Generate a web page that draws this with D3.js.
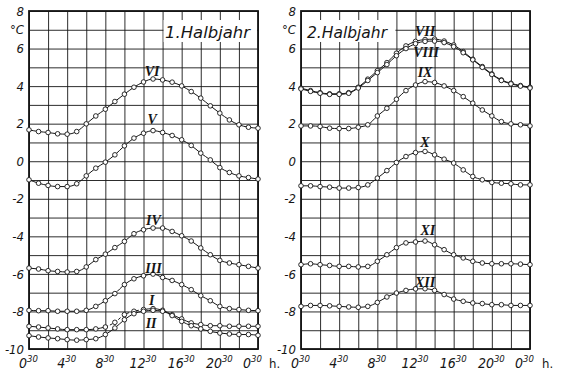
<!DOCTYPE html>
<html>
<head>
<meta charset="utf-8">
<script src="https://cdn.jsdelivr.net/npm/d3@7"></script>
<style>
  html, body { margin: 0; padding: 0; background: #fff; }
  svg { display: block; }
  .num { font-family: "DejaVu Sans Condensed", "Liberation Sans Narrow", "DejaVu Sans", sans-serif; font-stretch: condensed; font-style: italic; fill: #151515; }
  .rom { font-family: "Liberation Serif", "DejaVu Serif", serif; font-style: italic; fill: #151515; }
</style>
</head>
<body>
<svg id="chart" width="564" height="375"></svg>
<script>
// Hourly readings, hour 0 = 0:30, hour 24 = 0:30 of the next day
const hours = d3.range(0, 25);

// Mean daily temperature course, °C, per month (first half-year)
const I   = [-8.79, -8.83, -8.88, -8.93, -8.97, -8.97, -8.97, -8.93, -8.83, -8.58, -8.17, -7.99, -7.90, -7.85, -7.94, -8.17, -8.40, -8.61, -8.70, -8.76, -8.76, -8.79, -8.79, -8.79, -8.79];
const II  = [-9.29, -9.36, -9.41, -9.45, -9.50, -9.53, -9.50, -9.45, -9.23, -8.88, -8.44, -8.12, -7.99, -7.94, -7.99, -8.22, -8.53, -8.76, -8.93, -9.06, -9.15, -9.20, -9.23, -9.23, -9.27];
const III = [-7.94, -7.96, -7.96, -7.99, -7.99, -7.99, -7.94, -7.73, -7.43, -7.05, -6.57, -6.26, -6.10, -6.01, -6.19, -6.35, -6.57, -6.84, -7.16, -7.43, -7.73, -7.85, -7.90, -7.94, -7.96];
const IV  = [-5.69, -5.74, -5.83, -5.87, -5.90, -5.87, -5.63, -5.24, -4.95, -4.60, -4.27, -3.86, -3.65, -3.56, -3.56, -3.74, -3.97, -4.25, -4.62, -4.98, -5.28, -5.42, -5.51, -5.60, -5.69];
const V   = [-0.99, -1.17, -1.29, -1.35, -1.35, -1.20, -0.78, -0.37, -0.05, 0.34, 0.82, 1.23, 1.49, 1.63, 1.53, 1.37, 1.14, 0.84, 0.43, 0.07, -0.34, -0.60, -0.78, -0.87, -0.95];
const VI  = [1.67, 1.58, 1.53, 1.46, 1.44, 1.58, 1.99, 2.41, 2.77, 3.18, 3.57, 3.94, 4.22, 4.38, 4.33, 4.21, 4.01, 3.71, 3.36, 2.95, 2.56, 2.20, 1.94, 1.81, 1.76];

// Second half-year
const VII  = [3.89, 3.76, 3.65, 3.59, 3.59, 3.65, 3.94, 4.37, 4.82, 5.25, 5.75, 6.14, 6.38, 6.48, 6.50, 6.40, 6.19, 5.84, 5.43, 5.04, 4.65, 4.33, 4.15, 4.03, 3.94];
const VIII = [3.85, 3.72, 3.62, 3.56, 3.56, 3.62, 3.90, 4.30, 4.72, 5.15, 5.62, 6.00, 6.26, 6.38, 6.40, 6.32, 6.10, 5.78, 5.40, 5.00, 4.62, 4.30, 4.12, 4.00, 3.90];
const IX   = [1.88, 1.88, 1.85, 1.76, 1.74, 1.74, 1.81, 1.94, 2.41, 2.82, 3.30, 3.76, 4.06, 4.24, 4.19, 4.01, 3.76, 3.44, 3.09, 2.73, 2.41, 2.11, 1.99, 1.94, 1.88];
const X    = [-1.31, -1.31, -1.35, -1.38, -1.43, -1.43, -1.40, -1.26, -0.90, -0.50, -0.07, 0.25, 0.46, 0.52, 0.34, 0.11, -0.10, -0.46, -0.81, -0.99, -1.13, -1.17, -1.20, -1.26, -1.26];
const XI   = [-5.51, -5.46, -5.51, -5.55, -5.60, -5.60, -5.63, -5.60, -5.33, -4.98, -4.60, -4.35, -4.30, -4.25, -4.45, -4.71, -4.98, -5.15, -5.33, -5.42, -5.46, -5.46, -5.46, -5.48, -5.51];
const XII  = [-7.73, -7.68, -7.68, -7.70, -7.73, -7.76, -7.78, -7.73, -7.52, -7.23, -7.02, -6.88, -6.80, -6.79, -6.88, -7.10, -7.34, -7.46, -7.55, -7.58, -7.64, -7.64, -7.68, -7.68, -7.68];

// Axis ticks and labels
const tempGrid   = d3.range(-10, 9, 1);
const tempLabels = [-10, -8, -6, -4, -2, 0, 2, 4, 6, 7, 8];
const tempUnit   = "°C";
const hourGrid   = d3.range(0, 25, 2);
const hourTicks  = [0, 4, 8, 12, 16, 20, 24];
const hourLabels = ["0", "4", "8", "12", "16", "20", "0"];
const minuteMark = "30";
const hourUnit   = "h.";
const titles     = ["1.Halbjahr", "2.Halbjahr"];

// ---- layout ----
const svg = d3.select("#chart");
const plotTop = 11, plotBottom = 349;
const y = d3.scaleLinear().domain([-10, 8]).range([plotBottom, plotTop]);

const panels = [
  {
    title: titles[0], left: 29, right: 258,
    box: { h0: 14, h1: 24, t0: 7.52, t1: 6.35 }, titleX: 165, titleLen: 85,
    series: [
      { name: "VI",  values: VI,  lab: [12.9, 4.55] },
      { name: "V",   values: V,   lab: [12.9, 2.0] },
      { name: "IV",  values: IV,  lab: [13.05, -3.38] },
      { name: "III", values: III, lab: [13.05, -5.94] },
      { name: "I",   values: I,   lab: [12.85, -7.66], dashed: [8, 12] },
      { name: "II",  values: II,  lab: [12.8, -8.86] }
    ],
    unitX: 269
  },
  {
    title: titles[1], left: 301, right: 530,
    box: { h0: 0, h1: 10, t0: 7.52, t1: 6.35 }, titleX: 307, titleLen: 80,
    series: [
      { name: "VII",  values: VII,  lab: [13.0, 6.67] },
      { name: "VIII", values: VIII, lab: [13.1, 5.55] },
      { name: "IX",   values: IX,   lab: [13.0, 4.49] },
      { name: "X",    values: X,    lab: [13.0, 0.77] },
      { name: "XI",   values: XI,   lab: [13.3, -3.91] },
      { name: "XII",  values: XII,  lab: [13.0, -6.68] }
    ],
    unitX: 542
  }
];

const ink = "#151515";

panels.forEach(p => {
  const x = d3.scaleLinear().domain([0, 24]).range([p.left, p.right]);
  const w = p.right - p.left, h = plotBottom - plotTop;
  const g = svg.append("g");

  // horizontal grid, one line per degree
  g.append("g")
    .attr("transform", `translate(${p.left},0)`)
    .call(d3.axisLeft(y).tickValues(tempGrid).tickSize(-w).tickFormat(""))
    .call(a => a.select(".domain").remove())
    .call(a => a.selectAll("line").attr("stroke", ink).attr("stroke-width", 0.9));

  // vertical grid, every two hours
  g.append("g")
    .attr("transform", `translate(0,${plotBottom})`)
    .call(d3.axisBottom(x).tickValues(hourGrid).tickSize(-h).tickFormat(""))
    .call(a => a.select(".domain").remove())
    .call(a => a.selectAll("line").attr("stroke", ink).attr("stroke-width", 0.9));

  // frame
  g.append("rect")
    .attr("x", p.left).attr("y", plotTop).attr("width", w).attr("height", h)
    .attr("fill", "none").attr("stroke", ink).attr("stroke-width", 1.8);

  // title panel cut into the grid
  const bx0 = x(p.box.h0), bx1 = x(p.box.h1), by0 = y(p.box.t0), by1 = y(p.box.t1);
  g.append("rect")
    .attr("x", bx0 + 1).attr("y", by0).attr("width", bx1 - bx0 - 2).attr("height", by1 - by0)
    .attr("fill", "#fff");
  g.append("text").attr("class", "num")
    .attr("x", p.titleX).attr("y", by1 - 4)
    .attr("font-size", 16)
    .attr("textLength", p.titleLen).attr("lengthAdjust", "spacingAndGlyphs")
    .text(p.title);

  // temperature labels
  g.append("g")
    .attr("transform", `translate(${p.left},0)`)
    .call(d3.axisLeft(y).tickValues(tempLabels).tickSize(0).tickPadding(5)
      .tickFormat(v => v === 7 ? tempUnit : String(v)))
    .call(a => a.select(".domain").remove())
    .attr("font-family", null).attr("font-size", null)
    .call(a => a.selectAll("text").attr("class", "num").attr("font-size", 13).attr("fill", ink));

  // hour labels with raised minutes
  const xa = g.append("g")
    .attr("transform", `translate(0,${plotBottom})`)
    .call(d3.axisBottom(x).tickValues(hourTicks).tickSize(0).tickPadding(0).tickFormat(""))
    .call(a => a.select(".domain").remove());
  xa.attr("font-family", null).attr("font-size", null);
  xa.selectAll(".tick text").each(function (d, i) {
    const t = d3.select(this)
      .attr("class", "num").attr("fill", ink).attr("font-size", 14)
      .attr("y", 19).attr("dy", 0)
      .attr("dx", i === hourTicks.length - 1 ? -6 : -1)
      .attr("text-anchor", "middle");
    t.text(null);
    t.append("tspan").text(hourLabels[i]);
    t.append("tspan").attr("font-size", 9.5).attr("dy", -6).text(minuteMark);
  });
  g.append("text").attr("class", "num")
    .attr("x", p.unitX).attr("y", plotBottom + 19)
    .attr("font-size", 13).style("font-style", "normal")
    .text(hourUnit);

  // curves
  const line = d3.line().x((d, i) => x(hours[i])).y(d => y(d)).curve(d3.curveMonotoneX);
  p.series.forEach(s => {
    if (s.dashed) {
      const [d0, d1] = s.dashed;
      const solid = d3.line()
        .defined((d, i) => hours[i] <= d0 || hours[i] >= d1)
        .x((d, i) => x(hours[i])).y(d => y(d)).curve(d3.curveMonotoneX);
      g.append("path").attr("d", solid(s.values))
        .attr("fill", "none").attr("stroke", ink).attr("stroke-width", 1);
      const part = hours.filter(hh => hh >= d0 && hh <= d1);
      g.append("path")
        .attr("d", d3.line().x(hh => x(hh)).y(hh => y(s.values[hh])).curve(d3.curveMonotoneX)(part))
        .attr("fill", "none").attr("stroke", ink).attr("stroke-width", 1)
        .attr("stroke-dasharray", "3,2");
    } else {
      g.append("path").attr("d", line(s.values))
        .attr("fill", "none").attr("stroke", ink).attr("stroke-width", 1);
    }
  });
  p.series.forEach(s => {
    g.append("g").selectAll("circle").data(s.values).join("circle")
      .attr("cx", (d, i) => x(hours[i])).attr("cy", d => y(d)).attr("r", 2.3)
      .attr("fill", "#fff").attr("stroke", ink).attr("stroke-width", 0.9);
  });

  // month numerals
  p.series.forEach(s => {
    g.append("text").attr("class", "rom")
      .attr("x", x(s.lab[0])).attr("y", y(s.lab[1]))
      .attr("text-anchor", "middle").attr("font-size", 14).attr("font-weight", "bold")
      .text(s.name);
  });
});
</script>
</body>
</html>
